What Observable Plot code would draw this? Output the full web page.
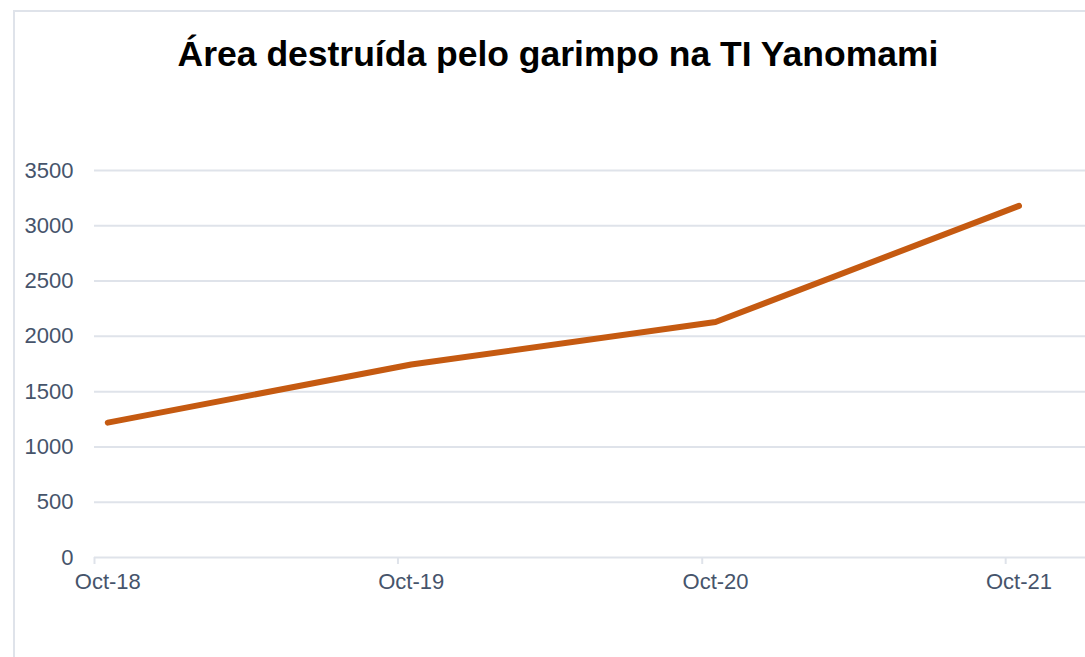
<!DOCTYPE html>
<html>
<head>
<meta charset="utf-8">
<script src="https://cdn.jsdelivr.net/npm/d3@7"></script>
<script src="https://cdn.jsdelivr.net/npm/@observablehq/plot@0.6"></script>
<style>
  html, body { margin: 0; padding: 0; background: #fff; overflow: hidden; width: 1085px; height: 657px; }
  #frame { position: absolute; left: 13px; top: 10px; width: 1100px; height: 700px; border: 2px solid #dfe3ea; box-sizing: border-box; }
  #title { position: absolute; left: 0; width: 1116px; top: 34px; text-align: center; font-family: "Liberation Sans", Arial, sans-serif; font-weight: bold; font-size: 35.5px; color: #000; }
  #chart { position: absolute; left: 0; top: 100px; }
</style>
</head>
<body>
<div id="frame"></div>
<div id="title">Área destruída pelo garimpo na TI Yanomami</div>
<div id="chart"></div>
<script>
const dates = ["2018-10-17", "2019-10-17", "2020-10-17", "2021-10-17"];
const values = [1220, 1745, 2130, 3180];
const tickDates = ["2018-10-01", "2019-10-01", "2020-10-01", "2021-10-01"];
const tickLabels = ["Oct-18", "Oct-19", "Oct-20", "Oct-21"];
const yTicks = [0, 500, 1000, 1500, 2000, 2500, 3000, 3500];

const data = dates.map((d, i) => ({date: new Date(d), value: values[i]}));
const ticks = tickDates.map(d => new Date(d));
const labelDates = dates.map(d => new Date(d));

const chart = Plot.plot({
  width: 1085,
  height: 520,
  marginLeft: 94,
  marginRight: 0,
  marginTop: 70,
  marginBottom: 63,
  style: {fontFamily: "Liberation Sans, Arial, sans-serif", fontSize: "22px", color: "#46546b", background: "transparent", overflow: "visible"},
  x: {type: "utc", domain: [new Date("2018-10-01"), new Date("2022-01-05")]},
  y: {domain: [0, 3500]},
  marks: [
    Plot.gridY(yTicks.filter(d => d > 0), {stroke: "#dfe3ea", strokeOpacity: 1, strokeWidth: 2}),
    Plot.axisY(yTicks, {tickSize: 0, tickPadding: 21, label: null, fill: "#46546b", fontSize: 22, tickFormat: d => String(d)}),
    Plot.axisX(ticks, {tickSize: 7, label: null, stroke: "#dfe3ea", strokeWidth: 2, tickFormat: () => ""}),
    Plot.axisX(labelDates, {tickSize: 0, tickPadding: 16, label: null, fill: "#46546b", fontSize: 22,
      tickFormat: (d, i) => tickLabels[i]}),
    Plot.ruleY([0], {stroke: "#dfe3ea", strokeWidth: 2}),
    Plot.line(data, {x: "date", y: "value", stroke: "#c55a11", strokeWidth: 6, strokeLinecap: "round", strokeLinejoin: "round"})
  ]
});
document.getElementById("chart").appendChild(chart);
</script>
</body>
</html>
